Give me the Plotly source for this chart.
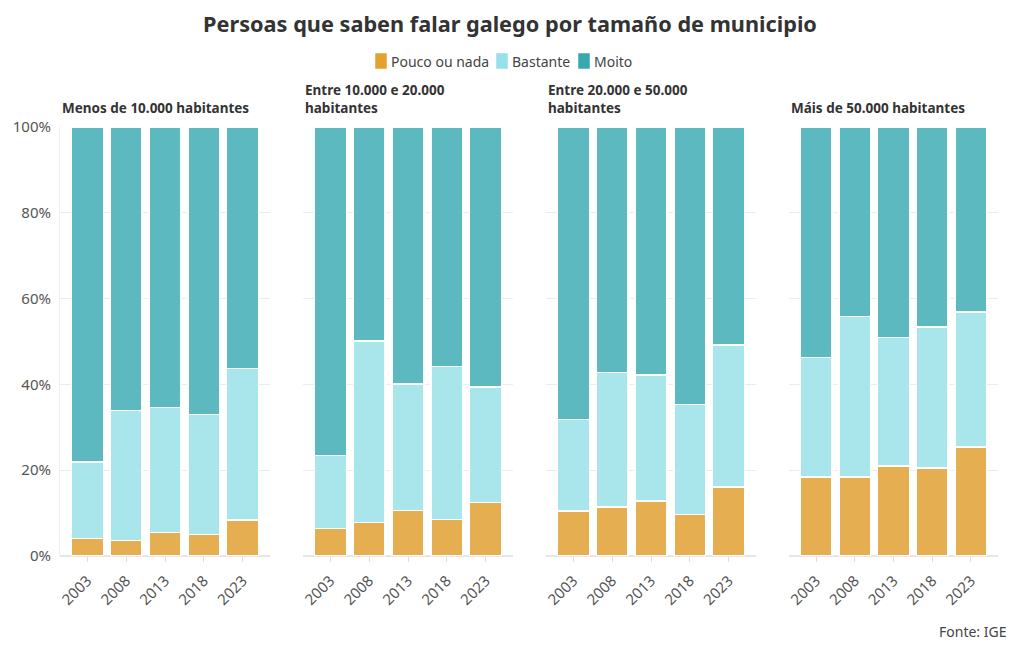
import plotly.graph_objects as go

years = ["2003", "2008", "2013", "2018", "2023"]
panels = ["Menos de 10.000 habitantes", "Entre 10.000 e 20.000<br>habitantes",
          "Entre 20.000 e 50.000<br>habitantes", "Máis de 50.000 habitantes"]

pouco = [
    [4.0, 3.7, 5.4, 5.1, 8.4],
    [6.5, 7.9, 10.7, 8.6, 12.4],
    [10.5, 11.4, 12.8, 9.6, 16.1],
    [18.4, 18.4, 21.0, 20.5, 25.4],
]
bastante = [
    [17.9, 30.3, 29.3, 27.8, 35.4],
    [17.0, 42.2, 29.4, 35.5, 27.0],
    [21.4, 31.3, 29.4, 25.8, 33.1],
    [27.8, 37.5, 30.0, 32.9, 31.5],
]
moito = [
    [78.1, 66.0, 65.3, 67.1, 56.2],
    [76.5, 49.9, 59.9, 55.9, 60.6],
    [68.1, 57.3, 57.8, 64.6, 50.8],
    [53.8, 44.1, 49.0, 46.6, 43.1],
]

series_names = ["Pouco ou nada", "Bastante", "Moito"]
bar_colors = ["#E5AE50", "#A9E6EB", "#5CB9BF"]
legend_colors = ["#E3A22E", "#96E0E8", "#38A8AE"]
series_vals = [pouco, bastante, moito]

FONT = "Noto Sans"
fig = go.Figure()

OFF = 8  # page body margin
ML, MR, MT, MB = 52, 30, 119, 102
PW = 1020 - ML - MR
PH = 650 - MT - MB


def px_x(px):
    return (px - OFF - ML) / PW


def px_y(py):
    return (650 - MB - (py - OFF)) / PH


domains = []
for i in range(4):
    left = 243 * i
    domains.append([left / PW, min(1.0, (left + 210) / PW)])

for i in range(4):
    xa = "x" if i == 0 else f"x{i+1}"
    ya = "y" if i == 0 else f"y{i+1}"
    for name, vals, col in zip(series_names, series_vals, bar_colors):
        fig.add_trace(go.Bar(
            x=years, y=vals[i], name=name, xaxis=xa, yaxis=ya,
            marker=dict(color=col, line=dict(color="white", width=1.2)),
            showlegend=False,
            hovertemplate="%{x}: %{y:.1f}%<extra>" + name + "</extra>",
        ))

layout = dict(
    barmode="stack",
    bargap=0.18,
    width=1020, height=650,
    margin=dict(l=ML, r=MR, t=MT, b=MB, autoexpand=False),
    plot_bgcolor="white", paper_bgcolor="white",
    font=dict(family=FONT, color="#444444"),
    title=dict(text="<b>Persoas que saben falar galego por tamaño de municipio</b>",
               x=502 / 1020, xanchor="center", y=0.975, yanchor="middle",
               font=dict(size=21.7, color="#333333", family=FONT)),
    showlegend=False,
)
for i in range(4):
    xk = "xaxis" if i == 0 else f"xaxis{i+1}"
    yk = "yaxis" if i == 0 else f"yaxis{i+1}"
    layout[xk] = dict(domain=domains[i], anchor="y" if i == 0 else f"y{i+1}",
                      type="category", range=[-0.7, 4.7], tickangle=-45,
                      tickfont=dict(size=15, color="#555555"),
                      ticks="outside", ticklen=5, tickcolor="#dddddd",
                      ticklabelstandoff=4,
                      showgrid=False, showline=False, zeroline=False)
    layout[yk] = dict(domain=[0, 1], anchor="x" if i == 0 else f"x{i+1}",
                      range=[0, 100], tickvals=[0, 20, 40, 60, 80, 100],
                      ticktext=["0%", "20%", "40%", "60%", "80%", "100%"],
                      showticklabels=(i == 0),
                      tickfont=dict(size=15, color="#555555"),
                      gridcolor="#ececec", gridwidth=1, zeroline=True,
                      zerolinecolor="#e6e6e6", showline=(i == 0),
                      linecolor="#eeeeee", ticks="", ticklabelstandoff=5)
fig.update_layout(**layout)

# legend (manual, compact like the reference)
leg_swatch_px = [376, 497, 579]
for name, col, sx in zip(series_names, legend_colors, leg_swatch_px):
    x0, x1 = px_x(sx), px_x(sx + 10)
    y0, y1 = px_y(68), px_y(54)
    fig.add_shape(type="rect", xref="paper", yref="paper", x0=x0, x1=x1, y0=y0, y1=y1,
                  fillcolor=col, line=dict(color=col, width=1.5))
    fig.add_annotation(text=name, xref="paper", yref="paper", x=px_x(sx + 13), y=px_y(61),
                       xanchor="left", yanchor="middle", showarrow=False,
                       font=dict(size=14, color="#444444", family=FONT))

for i, p in enumerate(panels):
    xref = "x domain" if i == 0 else f"x{i+1} domain"
    fig.add_annotation(text="<b>" + p + "</b>", xref=xref, yref="paper",
                       x=0, y=1.022, xanchor="left", yanchor="bottom", yshift=-1.5,
                       showarrow=False, align="left",
                       font=dict(size=13.5, color="#333333", family=FONT))

fig.add_annotation(text="Fonte: IGE", xref="paper", yref="paper", x=px_x(1008), y=px_y(631),
                   xanchor="right", yanchor="middle", showarrow=False,
                   font=dict(size=14, color="#444444", family=FONT))

fig.write_html("out.html")
